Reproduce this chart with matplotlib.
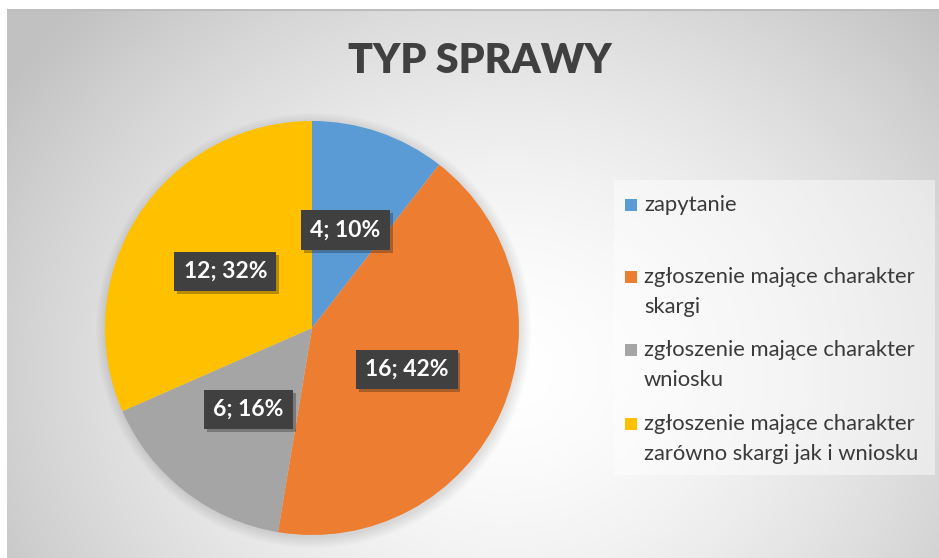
import numpy as np
import matplotlib
matplotlib.use("Agg")
import matplotlib.pyplot as plt
from matplotlib.patches import Rectangle, Circle
import matplotlib.patheffects as pe

plt.rcParams["font.family"] = ["Lato", "DejaVu Sans"]

# data
title = "TYP SPRAWY"
categories = [
    "zapytanie",
    "zgłoszenie mające charakter\nskargi",
    "zgłoszenie mające charakter\nwniosku",
    "zgłoszenie mające charakter\nzarówno skargi jak i wniosku",
]
counts = [4, 16, 6, 12]
percents = [10, 42, 16, 32]
colors = ["#5B9BD5", "#ED7D31", "#A5A5A5", "#FFC000"]

W, H = 939, 558
fig = plt.figure(figsize=(W / 100, H / 100), dpi=100)


def px(x, y):
    # pixel coords (from top-left) to figure fraction
    return x / W, 1 - y / H


# background: chart area with radial gradient
bg = fig.add_axes([7 / W, 0, (W - 7) / W, (H - 9) / H])
bg.set_axis_off()
yy, xx = np.mgrid[0:H - 9, 0:W - 7]
d = np.hypot(xx - 500, (yy - 360) * 1.15)
v = 255 - 62 * np.clip(d / 600, 0, 1) ** 1.6
img = np.dstack([v, v, v]).astype(np.uint8)
bg.imshow(img, aspect="auto", extent=[0, 1, 0, 1])
bg.plot([0, 1], [0.999, 0.999], color="#bdbdbd", lw=1.5, transform=bg.transAxes)
bg.set_xlim(0, 1)
bg.set_ylim(0, 1)

# pie
cx, cy, r = 312, 328, 207
ax = fig.add_axes([(cx - r) / W, (H - cy - r) / H, 2 * r / W, 2 * r / H])
ax.set_axis_off()

for i in range(14):
    ax.add_patch(Circle((0.008, -0.012), 1 + 0.004 * i, color="black",
                        alpha=0.009, clip_on=False, zorder=0, lw=0))

wedges, texts = ax.pie(
    counts, colors=colors, startangle=90, counterclock=False,
    radius=1, wedgeprops=dict(linewidth=0),
)
for w, n, p in zip(wedges, counts, percents):
    w.set_zorder(2)
    mid = np.deg2rad((w.theta1 + w.theta2) / 2)
    t = ax.text(0.5 * np.cos(mid), 0.5 * np.sin(mid), f"{n}; {p}%",
                ha="center", va="center", color="white", fontsize=16.5,
                fontweight="bold", zorder=5)
    t.set_bbox(dict(boxstyle="square,pad=0.4", fc="#404040", ec="none"))
    t.get_bbox_patch().set_path_effects(
        [pe.SimplePatchShadow(offset=(2, -2), alpha=0.3), pe.Normal()])
ax.set_xlim(-1, 1)
ax.set_ylim(-1, 1)

# title
fig.text(*px(480, 61), title, ha="center", va="center", fontsize=29.5,
         fontweight="heavy", color="#404040")

# legend
lx0, ly0, lx1, ly1 = 614, 180, 935, 475
fig.patches.append(Rectangle(px(lx0, ly1), (lx1 - lx0) / W, (ly1 - ly0) / H,
                             transform=fig.transFigure, fc="white", ec="none",
                             alpha=0.45, zorder=1))
row_y = [205, 277, 350, 424]
for lab, col, y in zip(categories, colors, row_y):
    fig.patches.append(Rectangle(px(625, y + 6), 12 / W, 12 / H,
                                 transform=fig.transFigure, fc=col, ec="none",
                                 zorder=2))
    for k, line in enumerate(lab.split("\n")):
        fig.text(*px(644, y + 30 * k), line, ha="left", va="center",
                 fontsize=15.8, color="#3a3a3a", zorder=3)

fig.savefig("out.png", dpi=100)
